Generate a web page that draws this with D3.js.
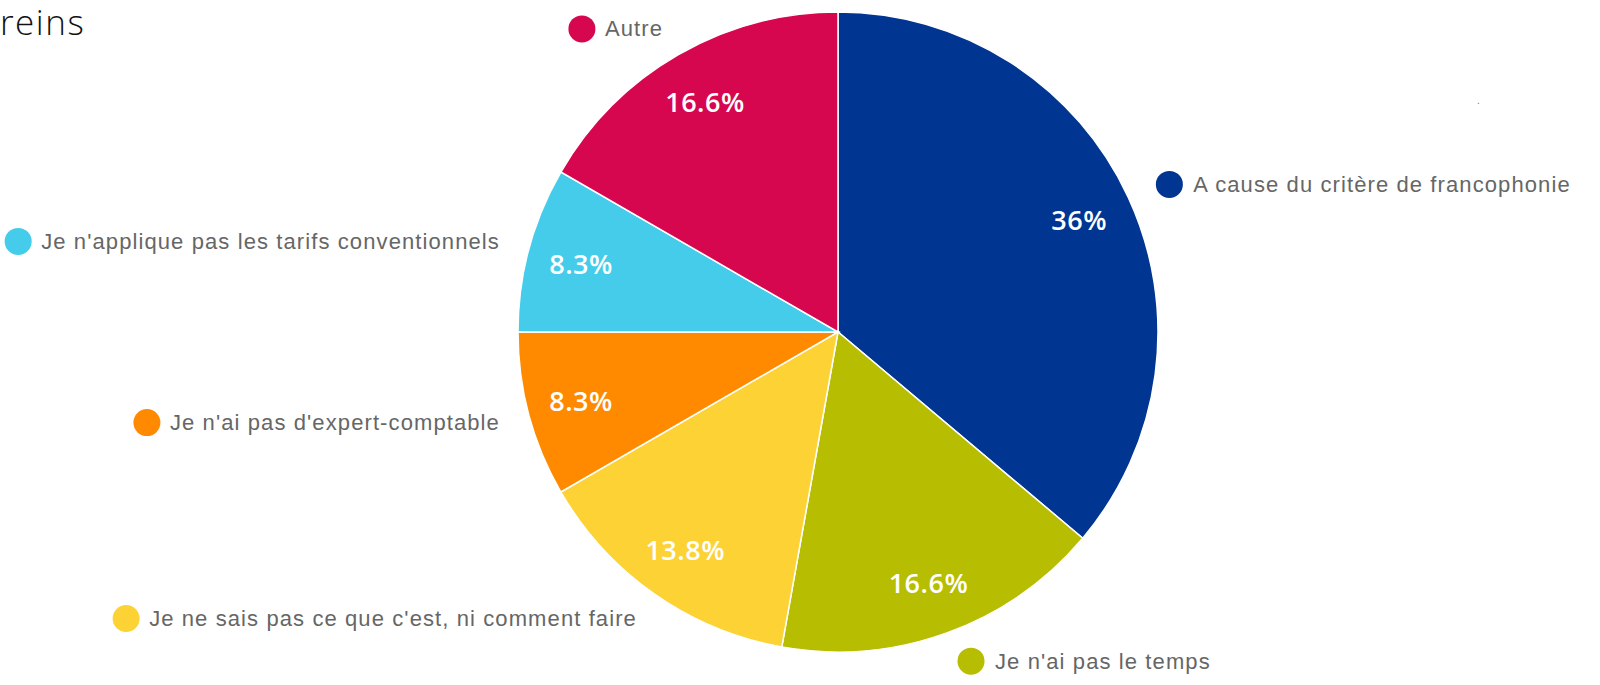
<!DOCTYPE html>
<html><head><meta charset="utf-8">
<script src="https://cdn.jsdelivr.net/npm/d3@7"></script>
<style>html,body{margin:0;padding:0;background:#fff;overflow:hidden}</style>
</head><body>
<svg id="chart" width="1600" height="685"></svg>
<script>
const categories = ["A cause du critère de francophonie","Je n'ai pas le temps","Je ne sais pas ce que c'est, ni comment faire","Je n'ai pas d'expert-comptable","Je n'applique pas les tarifs conventionnels","Autre"];
const values = [36, 16.6, 13.8, 8.3, 8.3, 16.6];
const valueLabels = ["36%","16.6%","13.8%","8.3%","8.3%","16.6%"];
const colors = ["#003591","#B7BD00","#FDD235","#FF8A00","#45CCEA","#D6074F"];

const svg = d3.select("#chart");
const cx = 838, cy = 332, R = 320;

svg.append("text").attr("x", 0).attr("y", 35)
  .attr("font-family", "'Open Sans', sans-serif").attr("font-weight", 300)
  .attr("font-size", 35).attr("letter-spacing", 1.5).attr("fill", "#111").text("reins");
svg.append("text").attr("x", 1477).attr("y", 104).attr("font-family","Liberation Sans")
  .attr("font-size", 10).attr("fill", "#777").text(".");

const pie = d3.pie().sort(null).value(d => d)(values);
const arc = d3.arc().innerRadius(0).outerRadius(R);
const g = svg.append("g").attr("transform", `translate(${cx},${cy})`);
g.selectAll("path").data(pie).join("path")
  .attr("d", arc).attr("fill", (d,i) => colors[i])
  .attr("stroke", "#fff").attr("stroke-width", 1.5);

const labelArc = d3.arc().innerRadius(266).outerRadius(266);
g.selectAll("text.val").data(pie).join("text").attr("class","val")
  .attr("transform", d => `translate(${labelArc.centroid(d)})`)
  .attr("text-anchor","middle").attr("dominant-baseline","central")
  .attr("font-family","'Open Sans', sans-serif").attr("font-weight",600)
  .attr("font-size",27).attr("letter-spacing",0.5).attr("fill","#fff")
  .text((d,i) => valueLabels[i]);

const outer = 350;
pie.forEach((d,i) => {
  const a = (d.startAngle + d.endAngle)/2;
  const px = Math.sin(a)*outer, py = -Math.cos(a)*outer;
  const right = px > 0;
  const lg = g.append("g");
  const t = lg.append("text").attr("y", py).attr("dominant-baseline","central")
    .attr("font-family","'Liberation Sans', Arial, sans-serif").attr("font-size",22)
    .attr("letter-spacing",1.1).attr("fill","#666").text(categories[i]);
  if (right) {
    lg.append("circle").attr("cx", px+14).attr("cy", py).attr("r", 13.5).attr("fill", colors[i]);
    t.attr("x", px+38).attr("text-anchor","start");
  } else {
    t.attr("x", px).attr("text-anchor","end");
    const w = t.node().getComputedTextLength();
    lg.append("circle").attr("cx", px - w - 23).attr("cy", py).attr("r", 13.5).attr("fill", colors[i]);
  }
});
</script>
</body></html>
